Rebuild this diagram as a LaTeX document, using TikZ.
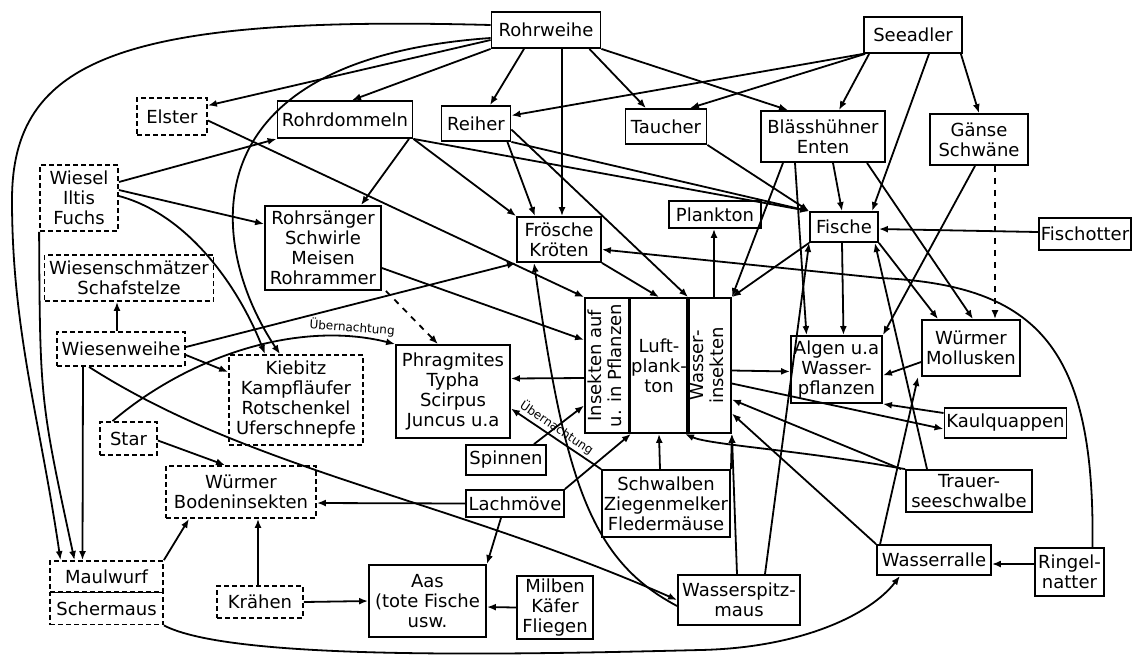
\documentclass[tikz,border=0pt]{standalone}
\usepackage{fontspec}
\setmainfont{DejaVu Sans}
\usepackage{tikz}
\usetikzlibrary{arrows.meta}

\newcommand{\webfont}{\fontsize{9}{10}\selectfont}
\newcommand{\notefont}{\fontsize{6}{6.5}\selectfont}

\tikzset{
  box/.style={draw, line width=0.9pt, inner sep=1pt, align=center, font=\webfont},
  dbox/.style={box, dash pattern=on 2.5pt off 1.5pt},
  link/.style={line width=0.9pt, -{Latex[length=4.5pt,width=3.5pt]}},
  note/.style={font=\notefont, inner sep=1pt}
}

\begin{document}
\begin{tikzpicture}[x=0.5pt, y=-0.5pt]
  \useasboundingbox (0,0) rectangle (1136,655);

  % top row
  \node[box, minimum width=54.5pt, minimum height=18pt] (rohrweihe) at (546,30) {Rohrweihe};
  \node[box, minimum width=49pt, minimum height=18pt] (seeadler) at (913,35) {Seeadler};
  \node[dbox, minimum width=35pt, minimum height=18.5pt] (elster) at (172,116.5) {Elster};
  \node[box, minimum width=67.5pt, minimum height=18.5pt] (rohrdommeln) at (345,119.5) {Rohrdommeln};
  \node[box, minimum width=34.5pt, minimum height=17.5pt] (reiher) at (476,123.5) {Reiher};
  \node[box, minimum width=40.5pt, minimum height=17.5pt] (taucher) at (666,126.5) {Taucher};
  \node[box, minimum width=62pt, minimum height=25.5pt] (bless) at (823,136.5) {Blässhühner\\Enten};
  \node[box, minimum width=49pt, minimum height=25.5pt] (gaense) at (979,139.5) {Gänse\\Schwäne};

  % second row
  \node[dbox, minimum width=39pt, minimum height=33pt] (wiesel) at (79,198) {Wiesel\\Iltis\\Fuchs};
  \node[box, minimum width=46pt, minimum height=13.5pt] (plankton) at (715,214.5) {Plankton};
  \node[box, minimum width=34pt, minimum height=15pt] (fische) at (844,227) {Fische};
  \node[box, minimum width=45.5pt, minimum height=16pt] (fischotter) at (1085,234) {Fischotter};
  \node[box, minimum width=58pt, minimum height=42pt] (rohrsaenger) at (323,248) {Rohrsänger\\Schwirle\\Meisen\\Rohrammer};
  \node[box, minimum width=42pt, minimum height=22.5pt] (froesche) at (559,239.5) {Frösche\\Kröten};
  \node[dbox, minimum width=84.5pt, minimum height=23pt] (wiesenschm) at (129,278) {Wiesenschmätzer\\Schafstelze};

  % middle
  \node[dbox, minimum width=64pt, minimum height=17pt] (wiesenweihe) at (121,349) {Wiesenweihe};
  \node[dbox, minimum width=67pt, minimum height=45pt] (kiebitz) at (296,400) {Kiebitz\\Kampfläufer\\Rotschenkel\\Uferschnepfe};
  \node[box, minimum width=57pt, minimum height=46.5pt] (phragmites) at (453,391.5) {Phragmites\\Typha\\Scirpus\\Juncus u.a};
  \node[box, minimum width=22.5pt, minimum height=67.5pt] (insekten) at (607.5,365.5)
    {\rotatebox{90}{\begin{tabular}{@{}c@{}}Insekten auf\\u. in Pflanzen\end{tabular}}};
  \node[box, minimum width=29pt, minimum height=67.5pt] (luft) at (659,365.5) {Luft-\\plank-\\ton};
  \node[box, minimum width=21pt, minimum height=67.5pt] (wasserins) at (709,365.5)
    {\rotatebox{90}{\begin{tabular}{@{}c@{}}Wasser-\\insekten\end{tabular}}};
  \node[box, minimum width=45.5pt, minimum height=33.5pt] (algen) at (836.5,369.5) {Algen u.a\\Wasser-\\pflanzen};
  \node[box, minimum width=49pt, minimum height=28pt] (wuermer) at (971,348) {Würmer\\Mollusken};
  \node[box, minimum width=60.5pt, minimum height=15pt] (kaulq) at (1005.5,423) {Kaulquappen};

  % lower part
  \node[dbox, minimum width=28.5pt, minimum height=16.5pt] (star) at (128.5,438.5) {Star};
  \node[dbox, minimum width=75pt, minimum height=26pt] (boden) at (241,492) {Würmer\\Bodeninsekten};
  \node[box, minimum width=40pt, minimum height=15pt] (spinnen) at (506,460) {Spinnen};
  \node[box, minimum width=49pt, minimum height=13.5pt] (lachmoeve) at (515,503.5) {Lachmöve};
  \node[box, minimum width=64pt, minimum height=33.5pt] (schwalben) at (666,503.5) {Schwalben\\Ziegenmelker\\Fledermäuse};
  \node[box, minimum width=63pt, minimum height=21pt] (trauer) at (969,491) {Trauer-\\seeschwalbe};
  \node[box, minimum width=57pt, minimum height=15pt] (wasserralle) at (934,560) {Wasserralle};
  \node[box, minimum width=34.5pt, minimum height=24pt] (ringel) at (1069.5,572) {Ringel-\\natter};
  \node[dbox, minimum width=56.5pt, minimum height=15.5pt] (maulwurf) at (106.5,576.5) {Maulwurf};
  \node[dbox, minimum width=56.5pt, minimum height=16pt] (schermaus) at (106.5,608.5) {Schermaus};
  \node[dbox, minimum width=43pt, minimum height=16pt] (kraehen) at (260,602) {Krähen};
  \node[box, minimum width=58.5pt, minimum height=36pt] (aas) at (427.5,601) {Aas\\(tote Fische\\usw.};
  \node[box, minimum width=38pt, minimum height=31.5pt] (milben) at (555,607.5) {Milben\\Käfer\\Fliegen};
  \node[box, minimum width=61pt, minimum height=25pt] (wasserspitz) at (739,600) {Wasserspitz-\\maus};

  % Rohrweihe
  \draw[link] ([yshift=-5pt]rohrweihe.west) -- ([yshift=5.5pt]elster.east);
  \draw[link] (rohrweihe.south west) -- ([xshift=3.5pt]rohrdommeln.north);
  \draw[link] ([xshift=-11pt]rohrweihe.south) -- ([xshift=7pt]reiher.north);
  \draw[link] ([xshift=8pt]rohrweihe.south) -- ([xshift=1.5pt]froesche.north);
  \draw[link] ([xshift=-6pt]rohrweihe.south east) -- ([xshift=-10pt]taucher.north);
  \draw[link] (rohrweihe.south east) -- ([xshift=-17.5pt]bless.north);
  \draw[link] ([yshift=2.5pt]rohrweihe.west) .. controls (120,15) and (12,60) .. (12,200)
    .. controls (12,330) and (40,420) .. ([xshift=-23pt]maulwurf.north);
  \draw[link] ([yshift=-4pt]rohrweihe.west) .. controls (180,60) and (210,250) .. ([xshift=-8pt]kiebitz.north);

  % Seeadler
  \draw[link] (seeadler.south west) -- ([yshift=4pt]reiher.east);
  \draw[link] ([xshift=1pt]seeadler.south west) -- ([xshift=12pt]taucher.north);
  \draw[link] ([xshift=3pt]seeadler.south west) -- ([xshift=8pt]bless.north);
  \draw[link] ([xshift=8pt]seeadler.south) -- ([xshift=14pt]fische.north);
  \draw[link] ([xshift=-1pt]seeadler.south east) -- (gaense.north);

  % Rohrdommeln, Reiher, Taucher
  \draw[link] ([xshift=32pt]rohrdommeln.south) -- ([xshift=19pt]rohrsaenger.north);
  \draw[link] (rohrdommeln.south east) -- (froesche.north west);
  \draw[link] (rohrdommeln.south east) -- (fische.north west);
  \draw[link] ([xshift=-2pt]reiher.south east) -- ([xshift=-12pt]froesche.north);
  \draw[link] ([yshift=-3pt]reiher.east) -- ([xshift=1pt]wasserins.north west);
  \draw[link] (reiher.south east) -- (fische.north west);
  \draw[link] (taucher.south east) -- (fische.north west);

  % Blaesshuehner, Gaense
  \draw[link] ([xshift=5pt]bless.south) -- ([xshift=-1pt]fische.north);
  \draw[link] ([xshift=-14pt]bless.south) -- ([xshift=-15pt]algen.north);
  \draw[link] ([xshift=-20pt]bless.south) -- (wasserins.north east);
  \draw[link] ([xshift=22pt]bless.south) -- ([xshift=1pt]wuermer.north);
  \draw[link, dashed] ([xshift=8pt]gaense.south) -- ([xshift=12pt]wuermer.north);
  \draw[link] ([xshift=-2pt]gaense.south) -- (algen.north east);

  % Fische
  \draw[link] ([yshift=1pt]fischotter.west) -- ([yshift=-1pt]fische.east);
  \draw[link] ([xshift=-1pt]fische.south) -- ([xshift=3.5pt]algen.north);
  \draw[link] (fische.south east) -- ([xshift=-16.5pt]wuermer.north);
  \draw[link] (fische.south west) -- (wasserins.north east);

  % Wiesel
  \draw[link] ([yshift=8pt]wiesel.east) -- (rohrdommeln.south west);
  \draw[link] ([yshift=4pt]wiesel.east) -- ([yshift=12pt]rohrsaenger.west);
  \draw[link] ([yshift=1pt]wiesel.east) .. controls (190,215) and (240,290) .. ([xshift=-15.5pt]kiebitz.north);
  \draw[link] (wiesel.south west) .. controls (40,400) .. ([xshift=-16pt]maulwurf.north);

  % Wiesenweihe
  \draw[link] ([xshift=-2pt]wiesenweihe.north) -- ([xshift=-6pt]wiesenschm.south);
  \draw[link] ([xshift=-19pt]wiesenweihe.south) -- ([xshift=-12pt]maulwurf.north);
  \draw[link] ([yshift=-3pt]wiesenweihe.east) -- ([yshift=14pt]kiebitz.west);
  \draw[link] ([yshift=1pt]wiesenweihe.east) -- (froesche.south west);
  \draw[link] ([xshift=-16pt]wiesenweihe.south) .. controls (250,470) and (450,500) .. (wasserspitz.west);

  % roosting in the reeds
  \draw[link] ([xshift=-8pt]star.north) .. controls (190,355) and (300,320) ..
    node[note, sloped, above, pos=0.85] (uebern1) {Übernachtung} (phragmites.north west);
  \draw[link] (schwalben.north west) --
    node[note, sloped, above, pos=0.55] (uebern2) {Übernachtung} ([yshift=-8.5pt]phragmites.east);
  \draw[link] ([yshift=-1pt]star.east) -- ([xshift=-8pt]boden.north);

  % Rohrsaenger, Elster, Froesche
  \draw[link, dashed] ([xshift=2pt]rohrsaenger.south east) -- ([xshift=-7.5pt]phragmites.north);
  \draw[link] ([yshift=-10pt]rohrsaenger.east) -- ([yshift=12.75pt]insekten.west);
  \draw[link] ([yshift=-2pt]elster.east) -- (insekten.north west);
  \draw[link] (froesche.south east) -- (luft.north);
  \draw[link] ([yshift=-6.25pt]insekten.west) -- ([yshift=6.5pt]phragmites.east);

  % Ringelnatter
  \draw[link] ([xshift=11.5pt]ringel.north) .. controls (1095,350) and (1040,285) .. (880,278)
    -- ([yshift=-5pt]froesche.east);
  \draw[link] ([yshift=4pt]ringel.west) -- ([yshift=-2pt]wasserralle.east);

  % Wasserspitzmaus
  \draw[link] ([yshift=-3pt]wasserspitz.west) .. controls (590,560) and (565,480) .. ([xshift=-12.5pt]froesche.south);
  \draw[link] ([xshift=-1pt]wasserspitz.north) -- (wasserins.south east);
  \draw[link] ([xshift=13pt]wasserspitz.north) -- (fische.south west);

  % Spinnen, Lachmoeve, Schwalben
  \draw[link] ([xshift=14pt]spinnen.north) -- ([yshift=-20pt]insekten.west);
  \draw[link] (lachmoeve.west) -- ([yshift=-5.5pt]boden.east);
  \draw[link] ([xshift=-7pt]lachmoeve.south) -- (aas.north east);
  \draw[link] (lachmoeve.north east) -- (insekten.south east);
  \draw[link] ([xshift=-3pt]schwalben.north) -- (luft.south);
  \draw[link] (schwalben.north east) -- (wasserins.south east);

  % Trauerseeschwalbe, Wasserralle
  \draw[link] ([xshift=-21pt]trauer.north) -- ([xshift=-2pt]fische.south east);
  \draw[link] (trauer.north west) .. controls (800,450) and (710,445) .. ([xshift=13pt]luft.south);
  \draw[link] ([xshift=-2pt]trauer.north west) -- ([yshift=-17pt]wasserins.east);
  \draw[link] ([xshift=2pt]wasserralle.north west) -- ([xshift=-26.5pt]wuermer.south);
  \draw[link] (wasserralle.north west) -- ([yshift=-24pt]wasserins.east);
  \draw[link] (schermaus.south east) .. controls (230,660) and (500,655) .. (700,650)
    .. controls (800,648) and (870,615) .. ([xshift=-17pt]wasserralle.south);

  % water
  \draw[link] ([xshift=2.5pt]wasserins.north) -- ([xshift=-0.5pt]plankton.south);
  \draw[link] ([yshift=-2.5pt]wasserins.east) -- ([yshift=-1pt]algen.west);
  \draw[link] ([yshift=-9pt]wasserins.east) -- ([yshift=-3pt]kaulq.west);
  \draw[link] ([yshift=5pt]kaulq.west) -- (algen.south east);
  \draw[link] ([yshift=-7pt]wuermer.west) -- ([yshift=-3pt]algen.east);

  % ground
  \draw[link] ([xshift=-1pt]kraehen.north) -- ([xshift=8.5pt]boden.south);
  \draw[link] (kraehen.east) -- (aas.west);
  \draw[link] (milben.west) -- ([yshift=-3pt]aas.east);
  \draw[link] (maulwurf.north east) -- ([xshift=-26pt]boden.south);
\end{tikzpicture}
\end{document}
